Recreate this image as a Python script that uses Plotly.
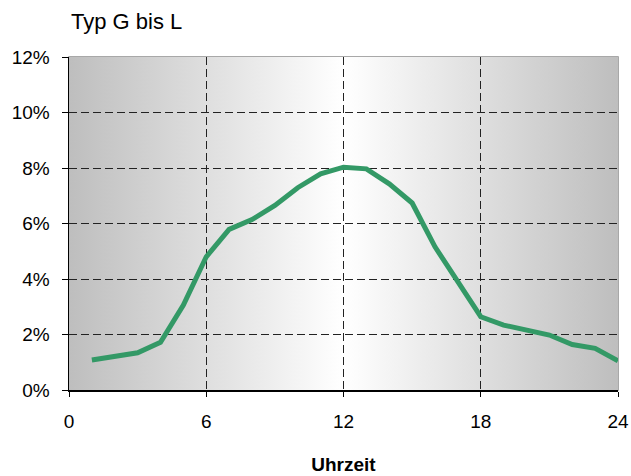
import base64
import plotly.graph_objects as go

hours = list(range(1, 25))
share = [1.08, 1.21, 1.34, 1.72, 3.06, 4.80, 5.79, 6.14, 6.65, 7.29, 7.79, 8.03,
         7.97, 7.43, 6.74, 5.16, 3.90, 2.64, 2.34, 2.18, 1.98, 1.64, 1.50, 1.05]
x_ticks = [0, 6, 12, 18, 24]
y_ticks = [0, 2, 4, 6, 8, 10, 12]
y_tick_labels = [f"{v}%" for v in y_ticks]

svg = ('<svg xmlns="http://www.w3.org/2000/svg" width="200" height="10" preserveAspectRatio="none">'
       '<defs><linearGradient id="g" x1="0" x2="1" y1="0" y2="0">'
       '<stop offset="0" stop-color="#bebebe"/>'
       '<stop offset="0.5" stop-color="#ffffff"/>'
       '<stop offset="1" stop-color="#bebebe"/>'
       '</linearGradient></defs>'
       '<rect width="200" height="10" fill="url(#g)"/></svg>')
src = "data:image/svg+xml;base64," + base64.b64encode(svg.encode()).decode()

W, H = 631, 476

fig = go.Figure()
fig.add_trace(go.Scatter(x=hours, y=share, mode="lines",
                         line=dict(color="#339966", width=5),
                         hoverinfo="skip", showlegend=False))

font = "Liberation Sans, Arial, sans-serif"
fig.update_layout(
    width=W, height=H,
    margin=dict(l=69, r=13, t=57, b=86, autoexpand=False),
    paper_bgcolor="white", plot_bgcolor="white",
    font=dict(family=font, size=19, color="black"),
    title=dict(text="Typ G bis L", x=71 / W, xanchor="left", xref="container",
               y=1 - 21 / H, yanchor="middle", yref="container", font=dict(size=22)),
    images=[dict(source=src, xref="x domain", yref="y domain", x=0, y=1,
                 sizex=1, sizey=1, sizing="stretch", xanchor="left", yanchor="top",
                 layer="below")],
    xaxis=dict(range=[0, 24], tickvals=x_ticks, ticktext=[str(v) for v in x_ticks],
               showgrid=True, gridcolor="#222222", griddash="8px,4px", gridwidth=1,
               showline=True, linecolor="black", linewidth=1.5, mirror=False,
               ticks="outside", ticklen=5, tickcolor="black", zeroline=False,
               ticklabelstandoff=9,
               title=dict(text="<b>Uhrzeit</b>", standoff=26,
                          font=dict(family=font, size=19))),
    yaxis=dict(range=[0, 12], tickvals=y_ticks, ticktext=y_tick_labels,
               showgrid=True, gridcolor="#222222", griddash="8px,4px", gridwidth=1,
               showline=True, linecolor="black", linewidth=1.5,
               ticks="outside", ticklen=6, tickcolor="black", zeroline=False,
               ticklabelstandoff=8),
    shapes=[dict(type="rect", xref="x domain", yref="y domain", x0=0, x1=1, y0=0, y1=1,
                 line=dict(color="#8c8c8c", width=1.5), layer="below")],
)

fig.write_html("out.html",
               config={"displayModeBar": False, "staticPlot": True},
               post_script="document.body.style.margin='0';document.body.style.overflow='hidden';")
